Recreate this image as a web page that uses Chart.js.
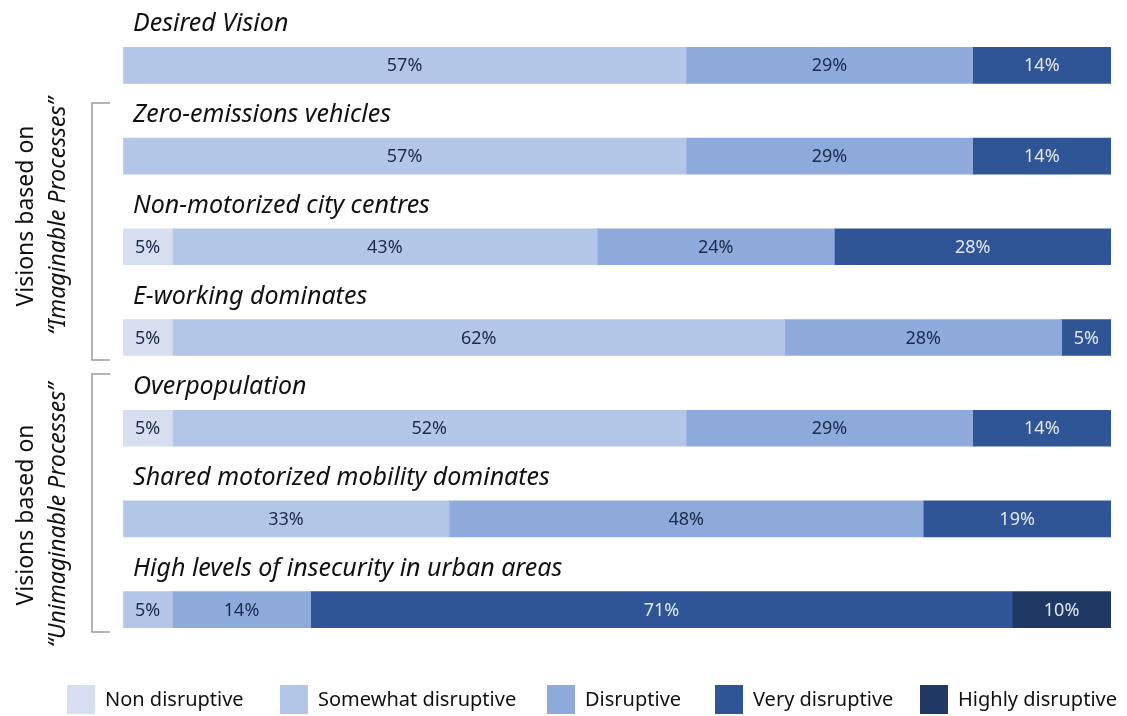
<!DOCTYPE html>
<html>
<head>
<meta charset="utf-8">
<script src="https://cdn.jsdelivr.net/npm/chart.js@4"></script>
<style>
  body { margin: 0; background: #fff; }
  #wrap { width: 1127px; height: 716px; }
</style>
</head>
<body>
<div id="wrap"><canvas id="chart"></canvas></div>
<script>
// visions (rows, top to bottom)
const visions = [
  "Desired Vision",
  "Zero-emissions vehicles",
  "Non-motorized city centres",
  "E-working dominates",
  "Overpopulation",
  "Shared motorized mobility dominates",
  "High levels of insecurity in urban areas"
];

// share of answers per level (%)
const nonDisruptive      = [0, 0, 5, 5, 5, 0, 0];
const somewhatDisruptive = [57, 57, 43, 62, 52, 33, 5];
const disruptive         = [29, 29, 24, 28, 29, 48, 14];
const veryDisruptive     = [14, 14, 28, 5, 14, 19, 71];
const highlyDisruptive   = [0, 0, 0, 0, 0, 0, 10];

const levels = ["Non disruptive", "Somewhat disruptive", "Disruptive", "Very disruptive", "Highly disruptive"];
const colors = ["#d6deef", "#b4c6e7", "#8eaadb", "#2f5597", "#1f3864"];
const textColors = ["#1c2b4a", "#1c2b4a", "#1c2b4a", "#e3e9f4", "#e3e9f4"];

const groups = [
  { line1: "Visions based on", line2: "\u201cImaginable Processes\u201d", from: 103, to: 360, mid: 216 },
  { line1: "Visions based on", line2: "\u201cUnimaginable Processes\u201d", from: 374, to: 632, mid: 515 }
];

const seriesData = [nonDisruptive, somewhatDisruptive, disruptive, veryDisruptive, highlyDisruptive];

// titles, value labels, brackets and legend
const decorations = {
  id: "decorations",
  afterDatasetsDraw(chart) {
    const ctx = chart.ctx;
    const yScale = chart.scales.y;
    const xScale = chart.scales.x;

    // value labels
    ctx.save();
    ctx.font = "18px 'Noto Sans'";
    ctx.textAlign = "center";
    ctx.textBaseline = "middle";
    chart.data.datasets.forEach((ds, i) => {
      const meta = chart.getDatasetMeta(i);
      meta.data.forEach((bar, j) => {
        const v = ds.data[j];
        if (!v) return;
        ctx.fillStyle = textColors[i];
        ctx.fillText(v + "%", (bar.x + bar.base) / 2, bar.y + 1);
      });
    });

    // row titles
    ctx.font = "italic 25px 'Noto Sans'";
    ctx.textAlign = "left";
    ctx.fillStyle = "#111";
    visions.forEach((name, j) => {
      const y = yScale.getPixelForValue(j);
      ctx.fillText(name, xScale.left + 10, y - 41);
    });

    // group brackets
    ctx.strokeStyle = "#9a9a9a";
    ctx.lineWidth = 1.5;
    groups.forEach(g => {
      ctx.beginPath();
      ctx.moveTo(110, g.from);
      ctx.lineTo(92, g.from);
      ctx.lineTo(92, g.to);
      ctx.lineTo(110, g.to);
      ctx.stroke();

      ctx.save();
      ctx.translate(0, g.mid);
      ctx.rotate(-Math.PI / 2);
      ctx.textAlign = "center";
      ctx.textBaseline = "middle";
      ctx.fillStyle = "#111";
      ctx.font = "23px 'Noto Sans'";
      ctx.fillText(g.line1, 0, 26);
      ctx.font = "italic 23px 'Noto Sans'";
      ctx.fillText(g.line2, 0, 58);
      ctx.restore();
    });

    // legend
    const legendX = [67, 280, 547, 715, 920];
    ctx.font = "20px 'Noto Sans'";
    ctx.textBaseline = "middle";
    ctx.textAlign = "left";
    levels.forEach((lab, i) => {
      ctx.fillStyle = colors[i];
      ctx.fillRect(legendX[i], 685, 28, 29);
      ctx.fillStyle = "#111";
      ctx.fillText(lab, legendX[i] + 38, 700);
    });
    ctx.restore();
  }
};

new Chart(document.getElementById("chart"), {
  type: "bar",
  data: {
    labels: visions,
    datasets: levels.map((lab, i) => ({
      label: lab,
      data: seriesData[i],
      backgroundColor: colors[i],
      borderWidth: 0,
      barThickness: 36
    }))
  },
  options: {
    indexAxis: "y",
    responsive: true,
    maintainAspectRatio: false,
    animation: false,
    layout: { padding: { left: 123, right: 16, top: 20, bottom: 61 } },
    plugins: {
      legend: { display: false },
      tooltip: { enabled: false }
    },
    scales: {
      x: { stacked: true, min: 0, max: 100, display: false },
      y: { stacked: true, display: false }
    }
  },
  plugins: [decorations]
});
</script>
</body>
</html>
